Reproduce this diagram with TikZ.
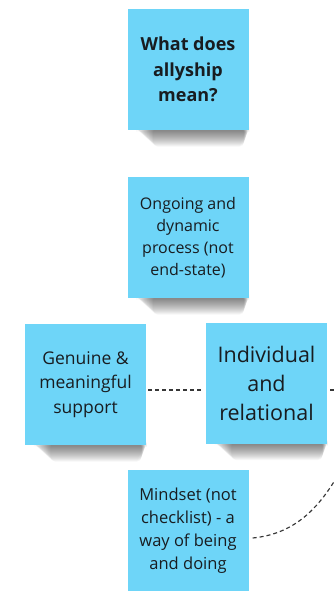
\documentclass[tikz,border=0pt]{standalone}
\usepackage{fontspec}
\setmainfont{Open Sans}
\usetikzlibrary{backgrounds}
\definecolor{sticky}{RGB}{110,213,248}
\definecolor{ink}{RGB}{24,28,32}
\definecolor{linkgray}{RGB}{55,55,55}
\tikzset{
  note/.style={fill=sticky, draw=none, minimum width=121pt, minimum height=121pt,
    inner sep=0pt, align=center, text=ink},
  link/.style={draw=linkgray, line width=1.15pt, dash pattern=on 4pt off 3pt},
}
% soft curled shadow under a sticky note
\newcommand{\noteshadow}[1]{%
  \begin{scope}[on background layer]
    \foreach \i in {1,...,16}{
      \fill[black, opacity=0.035, rounded corners=5pt]
        ([xshift={8pt+1.1pt*\i}, yshift=3pt]#1.south west)
        rectangle ([xshift={1pt-0.35pt*\i}, yshift={-0.5pt-1pt*\i}]#1.south east);
    }
  \end{scope}}
\begin{document}
\begin{tikzpicture}[x=1pt,y=-1pt]
  \useasboundingbox (0,0) rectangle (333,591);
  \begin{scope}[on background layer]
    \fill[white] (0,0) rectangle (333,591);
  \end{scope}

  \node[note, font=\fontsize{18}{25.5}\selectfont\bfseries] (q) at (188,69.5)
    {What does\\allyship\\mean?};
  \node[note, font=\fontsize{16}{22}\selectfont] (ongoing) at (188,237.5)
    {Ongoing and\\dynamic\\process (not\\end-state)};
  \node[note, font=\fontsize{17.5}{24.5}\selectfont] (genuine) at (85.5,384.5)
    {Genuine \&\\meaningful\\support};
  \node[note, font=\fontsize{21.5}{29}\selectfont] (indiv) at (266.5,383)
    {Individual\\and\\relational};
  \node[note, font=\fontsize{16.5}{23}\selectfont] (mindset) at (188,530.5)
    {Mindset (not\\checklist) - a\\way of being\\and doing};

  \noteshadow{q}
  \noteshadow{ongoing}
  \noteshadow{genuine}
  \noteshadow{indiv}

  % off-page ends of the outgoing links
  \coordinate (outA) at (340,390);
  \coordinate (outB) at (342,468);

  \draw[link] ([xshift=2pt,yshift=-5.5pt]genuine.east) -- ([xshift=-4pt,yshift=-7pt]indiv.west);
  \draw[link] ([xshift=3pt,yshift=-7pt]indiv.east) -- (outA);
  \draw[link] ([xshift=4pt,yshift=-7.5pt]mindset.east)
    .. controls (292,534) and (318,512) .. (outB);
\end{tikzpicture}
\end{document}
